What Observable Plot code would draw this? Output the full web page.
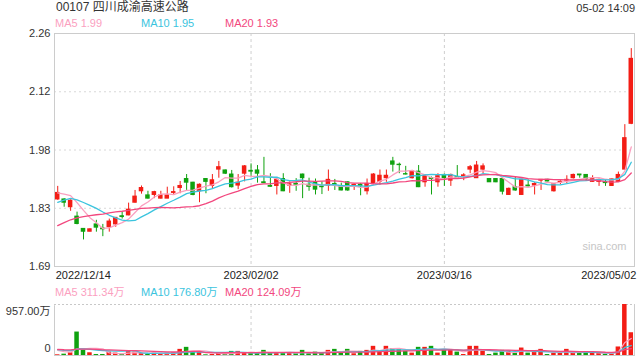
<!DOCTYPE html>
<html><head><meta charset="utf-8">
<script src="https://cdn.jsdelivr.net/npm/d3@7"></script>
<script src="https://cdn.jsdelivr.net/npm/@observablehq/plot@0.6"></script>
<style>
body{margin:0;background:#fff;}
#c{position:relative;width:640px;height:360px;overflow:hidden;font-family:Arial,"Liberation Sans","Noto Sans CJK SC",sans-serif;}
.t{position:absolute;white-space:nowrap;line-height:1;}
#c svg{position:absolute;left:0;}
</style></head><body><div id="c"></div>
<script>
const title = "00107 四川成渝高速公路";
const timeLabel = "05-02 14:09";
const maNames = ["MA5","MA10","MA20"];
const maPeriods = [5,10,20];
const maColors = ["#fb9fbf","#3bc4de","#f2477e"];
const priceMaLabels = ["1.99","1.95","1.93"];
const volMaLabels = ["311.34万","176.80万","124.09万"];

const open = [1.854,1.854,1.835,1.812,1.782,1.775,1.793,1.783,1.786,1.793,
 1.813,1.815,1.846,1.874,1.864,1.865,1.856,1.856,1.870,1.882,
 1.904,1.895,1.874,1.904,1.887,1.927,1.925,1.915,1.888,1.917,
 1.924,1.925,1.896,1.887,1.887,1.904,1.888,1.892,1.915,1.890,
 1.896,1.886,1.888,1.892,1.887,1.896,1.887,1.890,1.874,1.892,
 1.897,1.906,1.947,1.939,1.916,1.906,1.922,1.896,1.906,1.896,
 1.914,1.900,1.909,1.911,1.927,1.906,1.927,1.904,1.904,1.904,
 1.865,1.884,1.865,1.888,1.888,1.900,1.902,1.874,1.895,1.900,
 1.906,1.915,1.914,1.897,1.897,1.896,1.887,1.897,1.927,2.039];
const close = [1.870,1.846,1.851,1.794,1.775,1.781,1.785,1.781,1.800,1.809,
 1.811,1.829,1.861,1.882,1.856,1.872,1.864,1.864,1.872,1.887,
 1.895,1.865,1.890,1.897,1.901,1.933,1.917,1.884,1.895,1.935,
 1.922,1.917,1.894,1.885,1.902,1.874,1.891,1.890,1.906,1.885,
 1.878,1.884,1.902,1.890,1.876,1.876,1.890,1.886,1.892,1.915,
 1.912,1.912,1.939,1.938,1.915,1.923,1.884,1.912,1.904,1.911,
 1.906,1.914,1.906,1.913,1.933,1.937,1.935,1.896,1.896,1.873,
 1.880,1.876,1.902,1.886,1.892,1.902,1.898,1.891,1.897,1.902,
 1.914,1.913,1.904,1.904,1.902,1.894,1.903,1.914,2.004,2.198];
const high = [1.886,1.856,1.853,1.823,1.782,1.782,1.803,1.793,1.806,1.810,
 1.823,1.845,1.876,1.887,1.874,1.874,1.874,1.884,1.885,1.898,
 1.915,1.896,1.892,1.905,1.915,1.947,1.926,1.925,1.915,1.937,
 1.941,1.937,1.957,1.917,1.905,1.917,1.897,1.905,1.916,1.906,
 1.904,1.897,1.926,1.903,1.894,1.897,1.892,1.893,1.904,1.917,
 1.926,1.926,1.957,1.943,1.935,1.925,1.937,1.914,1.909,1.917,
 1.916,1.916,1.937,1.917,1.937,1.947,1.941,1.904,1.905,1.906,
 1.882,1.909,1.903,1.902,1.895,1.903,1.903,1.893,1.900,1.912,
 1.916,1.915,1.915,1.912,1.904,1.902,1.904,1.921,2.037,2.223];
const low = [1.852,1.835,1.825,1.792,1.755,1.775,1.774,1.763,1.774,1.786,
 1.806,1.814,1.845,1.867,1.855,1.856,1.855,1.856,1.866,1.868,
 1.874,1.863,1.846,1.868,1.880,1.906,1.915,1.882,1.878,1.897,
 1.909,1.894,1.893,1.884,1.865,1.873,1.869,1.874,1.856,1.874,
 1.865,1.866,1.874,1.876,1.875,1.874,1.876,1.863,1.865,1.889,
 1.889,1.896,1.921,1.917,1.914,1.904,1.883,1.884,1.865,1.884,
 1.886,1.886,1.903,1.900,1.917,1.906,1.917,1.896,1.895,1.865,
 1.864,1.874,1.864,1.885,1.865,1.876,1.897,1.872,1.890,1.892,
 1.904,1.906,1.898,1.896,1.886,1.886,1.886,1.896,1.926,2.037];
// volume in 万 shares
const volume = [13,25,51,440,96,51,19,19,64,45,
 19,77,64,45,19,45,32,45,51,115,
 153,64,64,13,19,45,25,77,77,45,
 45,45,96,45,45,45,45,45,96,32,
 64,45,96,115,45,115,32,77,96,172,
 77,172,128,128,77,45,153,153,172,45,
 108,108,64,19,172,172,83,19,45,96,
 83,45,140,45,64,115,19,45,45,115,
 45,45,45,51,51,19,32,160,957,427];
// earlier sessions (before the first visible day), estimated from the MA lines' starting levels
const priorCloses = [1.70,1.71,1.70,1.72,1.73,1.74,1.75,1.74,1.76,1.78,1.79,1.81,1.83,1.84,1.85,1.86,1.87,1.88,1.87];
const priorVolumes = [150,120,100,130,90,110,140,120,100,130,160,110,120,90,140,130,110,120,100];

const priceTickValues = [1.69,1.8325,1.975,2.1175,2.26];
const priceTickLabels = ["1.69","1.83","1.98","2.12","2.26"];
const xTickIndex = [0,30,60,89];
const xTickLabels = ["2022/12/14","2023/02/02","2023/03/16","2023/05/02"];
const volTickValues = [957,0];
const volTickLabels = ["957.00万","0"];

const UP = "#f31d15", DOWN = "#0fa20f";
const N = close.length;
const idx = d3.range(N);
const candles = idx.map(i => ({i, o: open[i], c: close[i], h: high[i], l: low[i], v: volume[i], col: close[i] >= open[i] ? UP : DOWN}));

function movingAvg(prior, values, k) {
  const all = prior.concat(values);
  return values.map((_, i) => { const j = prior.length + i; return d3.mean(all.slice(j - k + 1, j + 1)); });
}
const priceMA = maPeriods.map((k, m) => movingAvg(priorCloses, close, k).map((v, i) => ({i, v})));
const volMA = maPeriods.map((k, m) => movingAvg(priorVolumes, volume, k).map((v, i) => ({i, v})));

const FONT = "Arial, 'Liberation Sans', 'Noto Sans CJK SC', sans-serif";
const xOpt = {type: "band", domain: idx, paddingInner: 0.3, paddingOuter: 0.15, axis: null};
const grid = {stroke: "#cfcfcf", strokeDasharray: "3,3"};

const price = Plot.plot({
  width: 640, height: 255, marginLeft: 54, marginRight: 6, marginTop: 2, marginBottom: 20,
  x: xOpt,
  y: {domain: [priceTickValues[0], priceTickValues[priceTickValues.length - 1]], axis: null},
  color: {type: "identity"},
  style: {fontFamily: FONT, fontSize: "11px", background: "transparent", overflow: "visible"},
  marks: [
    Plot.ruleY(priceTickValues.slice(1, -1), {stroke: "#d8d8d8", strokeDasharray: "2,3"}),
    Plot.ruleX(xTickIndex.slice(1, -1), grid),
    Plot.frame({stroke: "#cccccc"}),
    Plot.text(["sina.com"], {frameAnchor: "bottom-right", dx: -8, dy: -17, fill: "#c6c6c6", fontSize: 11}),
    Plot.ruleX(candles, {x: "i", y1: "l", y2: "h", stroke: "col", strokeWidth: 1}),
    Plot.barY(candles, {x: "i", y1: "o", y2: "c", fill: "col", insetTop: -0.5, insetBottom: -0.5}),
    ...priceMA.map((d, m) => Plot.line(d, {x: "i", y: "v", stroke: maColors[m], strokeWidth: 1.3})),
    Plot.text(priceTickValues, {y: d => d, text: (d, i) => priceTickLabels[i], frameAnchor: "left", textAnchor: "end", dx: -4, fill: "#333"}),
    Plot.text(xTickIndex.slice(0, 1), {x: d => d, text: (d, i) => xTickLabels[0], frameAnchor: "bottom", textAnchor: "start", dx: -2, dy: 12, fill: "#222"}),
    Plot.text(xTickIndex.slice(1, -1), {x: d => d, text: (d, i) => xTickLabels[i + 1], frameAnchor: "bottom", textAnchor: "middle", dy: 12, fill: "#222"}),
    Plot.text(xTickIndex.slice(-1), {x: d => d, text: (d, i) => xTickLabels[xTickLabels.length - 1], frameAnchor: "bottom", textAnchor: "end", dx: 5, dy: 12, fill: "#222"})
  ]
});

const vol = Plot.plot({
  width: 640, height: 56, marginLeft: 54, marginRight: 6, marginTop: 2, marginBottom: 3,
  x: xOpt,
  y: {domain: [0, volTickValues[0]], axis: null},
  color: {type: "identity"},
  style: {fontFamily: FONT, fontSize: "11px", background: "transparent", overflow: "visible"},
  marks: [
    Plot.ruleX(xTickIndex.slice(1, -1), grid),
    Plot.frame({stroke: "#cccccc"}),
    Plot.ruleY([volTickValues[0]], {stroke: "#fff", strokeWidth: 1.5}),
    Plot.ruleY([volTickValues[0]], {stroke: "#c8c8c8", strokeDasharray: "2,2"}),
    Plot.barY(candles, {x: "i", y: "v", fill: "col"}),
    ...volMA.map((d, m) => Plot.line(d, {x: "i", y: "v", stroke: maColors[m], strokeWidth: 1.3})),
    Plot.text(volTickValues.slice(0, 1), {y: d => d, text: (d, i) => volTickLabels[0], frameAnchor: "left", textAnchor: "end", dx: -4, dy: 7, fill: "#333"}),
    Plot.text(volTickValues.slice(1), {y: d => d, text: (d, i) => volTickLabels[1], frameAnchor: "left", textAnchor: "end", dx: -4, dy: -7, fill: "#333"})
  ]
});

const c = document.getElementById("c");
function label(txt, css) {
  const d = document.createElement("div");
  d.className = "t"; d.textContent = txt;
  Object.assign(d.style, css);
  c.appendChild(d);
}
label(title, {left: "56px", top: "1px", fontSize: "12px", color: "#333"});
label(timeLabel, {right: "5px", top: "3px", fontSize: "11px", color: "#333"});
const legendX = [55, 141, 225];
maNames.forEach((n, m) => {
  label(n + " " + priceMaLabels[m], {left: legendX[m] + "px", top: "18px", fontSize: "11px", color: maColors[m]});
  label(n + " " + volMaLabels[m], {left: legendX[m] + "px", top: "287px", fontSize: "11px", color: maColors[m]});
});
price.style.top = "31px";
vol.style.top = "302px";
c.appendChild(price);
c.appendChild(vol);
</script>
</body></html>
